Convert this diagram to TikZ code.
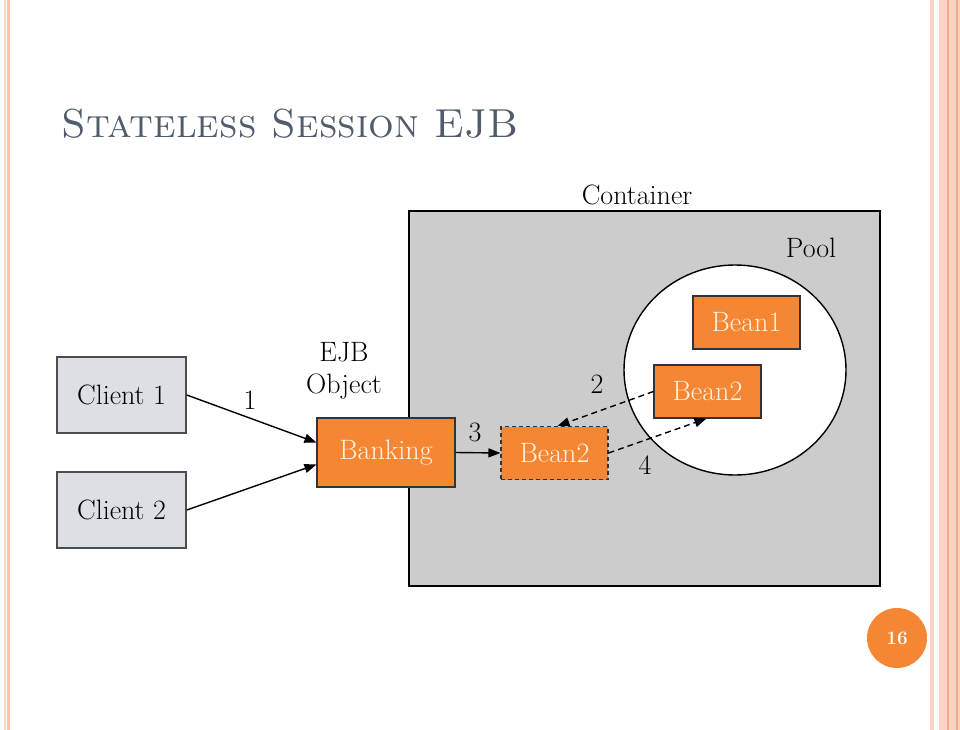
\documentclass[tikz,border=0pt]{standalone}
\usepackage{xcolor}
\usepackage{tikz}
\usetikzlibrary{positioning, shapes, arrows, calc, arrows.meta}

\definecolor{beanorange}{HTML}{F58634}
\definecolor{beantext}{HTML}{FFF3E3}
\definecolor{clientgray}{HTML}{DCDFE3}
\definecolor{containergray}{HTML}{CCCCCC}
\definecolor{titlegray}{HTML}{505B6B}
\definecolor{stripelight}{HTML}{FBD3C2}
\definecolor{stripedark}{HTML}{F2A98A}

\begin{document}
\begin{tikzpicture}[x=1pt, y=-1pt,
    every node/.style={font=\fontsize{28}{32}\selectfont},
    client/.style={draw=black!70, line width=1.6pt, fill=clientgray, minimum width=129pt, minimum height=76pt},
    bean/.style={draw=black!80, line width=1.1pt, fill=beanorange, text=beantext, minimum width=107pt, minimum height=53pt},
    link/.style={-{Triangle[length=12pt, width=9pt]}, line width=1.4pt},
    poollink/.style={link, dashed, dash pattern=on 6pt off 4pt}]
    \useasboundingbox (0,0) rectangle (960,730);

    % Side stripes of the slide
    \fill[stripelight] (4,0) rectangle (6,730);
    \fill[stripedark!70] (7,0) rectangle (10,730);
    \fill[stripelight] (930,0) rectangle (934,730);
    \fill[stripelight] (939,0) rectangle (960,730);
    \fill[stripedark] (947,0) rectangle (948.5,730);
    \fill[stripedark] (956,0) rectangle (957.5,730);

    % Title
    \node[anchor=base west, text=titlegray, font=\fontsize{40.5}{44}\selectfont] (title) at (58,138) {\textsc{Stateless Session EJB}};

    % Container and pool
    \node[draw, line width=1.5pt, fill=containergray, minimum width=471pt, minimum height=375pt] (container) at (644.5,398.5) {};
    \node (containerlbl) at (637,195) {Container};
    \node (poollbl) at (811,248) {Pool};
    \node[ellipse, draw, line width=1.4pt, fill=white, minimum width=222pt, minimum height=210pt] (pool) at (735,370) {};

    % Beans
    \node[bean] (bean1) at (746.5,322.5) {Bean1};
    \node[bean] (pooled) at (707.5,391.5) {Bean2};
    \node[bean, dashed, dash pattern=on 4pt off 3pt] (active) at (554.5,453) {Bean2};

    % Clients and EJB object
    \node[client] (client1) at (121.5,395) {Client 1};
    \node[client] (client2) at (121.5,510) {Client 2};
    \node[bean, minimum width=138pt, minimum height=69pt] (banking) at (386,452.5) {Banking};
    \node[align=center] (ejblbl) at (344,371) {EJB\\Object};

    % Calls
    \draw[link] (client1.east) -- ($(banking.west)+(0,-10)$);
    \draw[link] (client2.east) -- ($(banking.west)+(0,12)$);
    \draw[link] (banking.east) -- (active.west);
    \draw[poollink] (pooled.west) -- ($(active.north)+(3,0)$);
    \draw[poollink] (active.east) -- ($(pooled.south)+(-1,0)$);

    % Step numbers
    \node (n1) at (250,400) {1};
    \node (n2) at (597,384) {2};
    \node (n3) at (475,432) {3};
    \node (n4) at (645,465) {4};

    % Page number
    \node[circle, fill=beanorange, minimum size=60pt, text=white, font=\fontsize{19}{21}\selectfont\bfseries] (page) at (897,638) {16};
\end{tikzpicture}
\end{document}
